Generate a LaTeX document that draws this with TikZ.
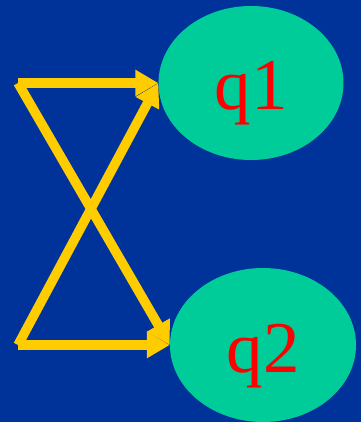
\documentclass[tikz,border=0pt]{standalone}
\usepackage{fontspec}
\setmainfont{Liberation Serif}
\usetikzlibrary{arrows.meta,shapes.geometric}
\definecolor{bgblue}{HTML}{003399}
\definecolor{stategreen}{HTML}{00CC99}
\definecolor{arrowyellow}{HTML}{FFCC00}
\newcommand{\statetext}[1]{\raisebox{-27pt}[0pt][0pt]{#1}}
\begin{document}
\begin{tikzpicture}[x=1pt,y=-1pt,
  state/.style={ellipse,fill=stategreen,inner sep=0pt,text=red,font=\fontsize{73}{73}\selectfont},
  yarrow/.style={draw=arrowyellow,line width=9.5pt,-{Triangle[length=23pt,width=25pt]}}]
\fill[bgblue] (0,0) rectangle (361,422);
\useasboundingbox (0,0) rectangle (361,422);
\node[state,minimum width=185pt,minimum height=154pt] (q1) at (251,83) {\statetext{q1}};
\node[state,minimum width=186pt,minimum height=154pt] (q2) at (263,345) {\statetext{q2}};
\coordinate (a) at (18,83);
\coordinate (b) at (18,345);
\draw[yarrow] (a) -- (q1.west);
\draw[yarrow] (a) -- (q2.west);
\draw[yarrow] (b) -- (q2.west);
\draw[yarrow] (b) -- (q1.west);
\end{tikzpicture}
\end{document}
